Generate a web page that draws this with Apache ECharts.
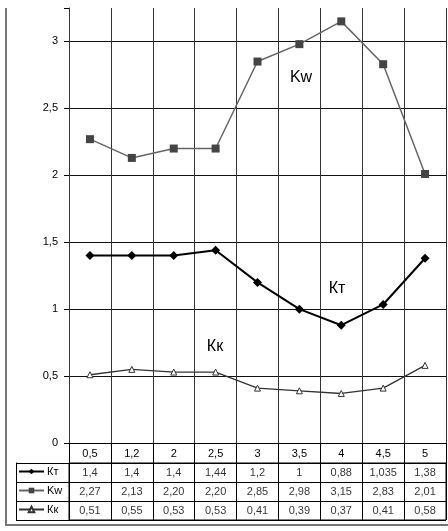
<!DOCTYPE html>
<html><head><meta charset="utf-8">
<script src="https://cdn.jsdelivr.net/npm/echarts@6/dist/echarts.min.js"></script>
<style>html,body{margin:0;padding:0;background:#fff}#c{width:448px;height:531px}</style>
</head><body><div id="c"></div>
<script>
const categories = ['0,5','1,2','2','2,5','3','3,5','4','4,5','5'];
const kT = [1.4, 1.4, 1.4, 1.44, 1.2, 1, 0.88, 1.035, 1.38];
const kW = [2.27, 2.13, 2.20, 2.20, 2.85, 2.98, 3.15, 2.83, 2.01];
const kK = [0.51, 0.55, 0.53, 0.53, 0.41, 0.39, 0.37, 0.41, 0.58];
const seriesNames = ['Кт', 'Kw', 'Кк'];
const yMin = 0, yMax = 3.25, yStep = 0.5;

const FONT = 'Liberation Sans, Arial, sans-serif';
const rows = [kT, kW, kK];
const fmt = [
  v => String(v).replace('.', ','),
  v => v.toFixed(2).replace('.', ','),
  v => v.toFixed(2).replace('.', ',')
];
const tableData = [];
rows.forEach((arr, r) => arr.forEach((v, i) => tableData.push([i, r, v])));

const nLines = Math.floor((yMax - yMin) / yStep) + 2;
const splitColors = [];
for (let i = 0; i < nLines; i++) splitColors.push(i === nLines - 1 ? 'rgba(0,0,0,0)' : '#111');

// table rows: top 463, bottom 520
const tableTop = 463, tableBottom = 520;
const rowH = (tableBottom - tableTop) / seriesNames.length;
const legends = seriesNames.map((n, r) => ({
  data: [n], orient: 'horizontal', left: 18, top: tableTop + rowH * (r + 0.5) - 6.5, padding: 0,
  itemWidth: 25, itemHeight: 7, selectedMode: false,
  textStyle: {fontSize: 11, color: '#000', fontFamily: FONT, padding: [0, 0, 0, -2]}
}));

const chart = echarts.init(document.getElementById('c'), null, {renderer: 'canvas'});
chart.setOption({
  animation: false,
  backgroundColor: '#fff',
  textStyle: {fontFamily: FONT},
  grid: [
    {left: 69, right: 2, top: 8, bottom: 88},
    {left: 69, right: 2, top: tableTop, bottom: 531 - tableBottom, show: true, borderColor: '#000', borderWidth: 1, backgroundColor: 'transparent'}
  ],
  legend: legends,
  xAxis: [
    {gridIndex: 0, type: 'category', data: categories, boundaryGap: true,
     axisLine: {show: true, lineStyle: {color: '#000'}},
     axisTick: {show: true, interval: 0, length: 20, lineStyle: {color: '#000'}},
     axisLabel: {interval: 0, margin: 5, color: '#000', fontSize: 11, fontFamily: FONT},
     splitLine: {show: true, interval: 0, lineStyle: {color: '#333'}}},
    {gridIndex: 1, type: 'category', data: categories, boundaryGap: true,
     axisLine: {show: false}, axisTick: {show: false}, axisLabel: {show: false},
     splitLine: {show: true, interval: 0, lineStyle: {color: '#000'}}}
  ],
  yAxis: [
    {gridIndex: 0, type: 'value', min: yMin, max: yMax, interval: yStep,
     axisLine: {show: true, lineStyle: {color: '#333'}},
     axisTick: {show: true, length: 5, lineStyle: {color: '#000'}},
     axisLabel: {formatter: v => (v > 3.2 ? '' : String(v).replace('.', ',')), color: '#000', fontSize: 11, margin: 11, fontFamily: FONT},
     splitLine: {show: true, lineStyle: {color: splitColors}}},
    {gridIndex: 1, type: 'category', data: seriesNames, inverse: true,
     axisLine: {show: false},
     axisTick: {show: true, length: 53, interval: 0, lineStyle: {color: '#000'}},
     axisLabel: {show: false},
     splitLine: {show: true, interval: 0, lineStyle: {color: '#000'}}},
    {gridIndex: 1, type: 'category', data: seriesNames, inverse: true, position: 'left', offset: 53,
     axisLine: {show: true, lineStyle: {color: '#000'}},
     axisTick: {show: false}, axisLabel: {show: false}, splitLine: {show: false}}
  ],
  series: [
    {name: seriesNames[0], type: 'line', data: kT, xAxisIndex: 0, yAxisIndex: 0,
     symbol: 'diamond', symbolSize: 9, lineStyle: {color: '#000', width: 2},
     itemStyle: {color: '#000'}, z: 4},
    {name: seriesNames[1], type: 'line', data: kW, xAxisIndex: 0, yAxisIndex: 0,
     symbol: 'rect', symbolSize: 8, lineStyle: {color: '#666', width: 1.5},
     itemStyle: {color: '#444'}, z: 3},
    {name: seriesNames[2], type: 'line', data: kK, xAxisIndex: 0, yAxisIndex: 0,
     symbol: 'triangle', symbolSize: 6, lineStyle: {color: '#333', width: 1.3},
     itemStyle: {color: '#fff', borderColor: '#333', borderWidth: 1}, z: 3},
    {type: 'scatter', xAxisIndex: 1, yAxisIndex: 1, data: tableData,
     symbolSize: 1, itemStyle: {color: 'rgba(0,0,0,0)'}, silent: true,
     label: {show: true, position: 'inside', color: '#000', fontSize: 11, fontFamily: FONT,
       formatter: p => fmt[p.value[1]](p.value[2])}}
  ],
  graphic: [
    {type: 'polyline', shape: {points: [[6, 8], [6, 525], [448, 525]]}, style: {stroke: '#777', lineWidth: 2, fill: null}, silent: true},
    {type: 'text', x: 301, y: 78, style: {text: 'Kw', fontSize: 16, fontFamily: FONT, fill: '#000', textAlign: 'center', textVerticalAlign: 'middle'}},
    {type: 'text', x: 337, y: 289, style: {text: 'Кт', fontSize: 16, fontFamily: FONT, fill: '#000', textAlign: 'center', textVerticalAlign: 'middle'}},
    {type: 'text', x: 215, y: 347, style: {text: 'Кк', fontSize: 16, fontFamily: FONT, fill: '#000', textAlign: 'center', textVerticalAlign: 'middle'}}
  ]
});
</script>
</body></html>
